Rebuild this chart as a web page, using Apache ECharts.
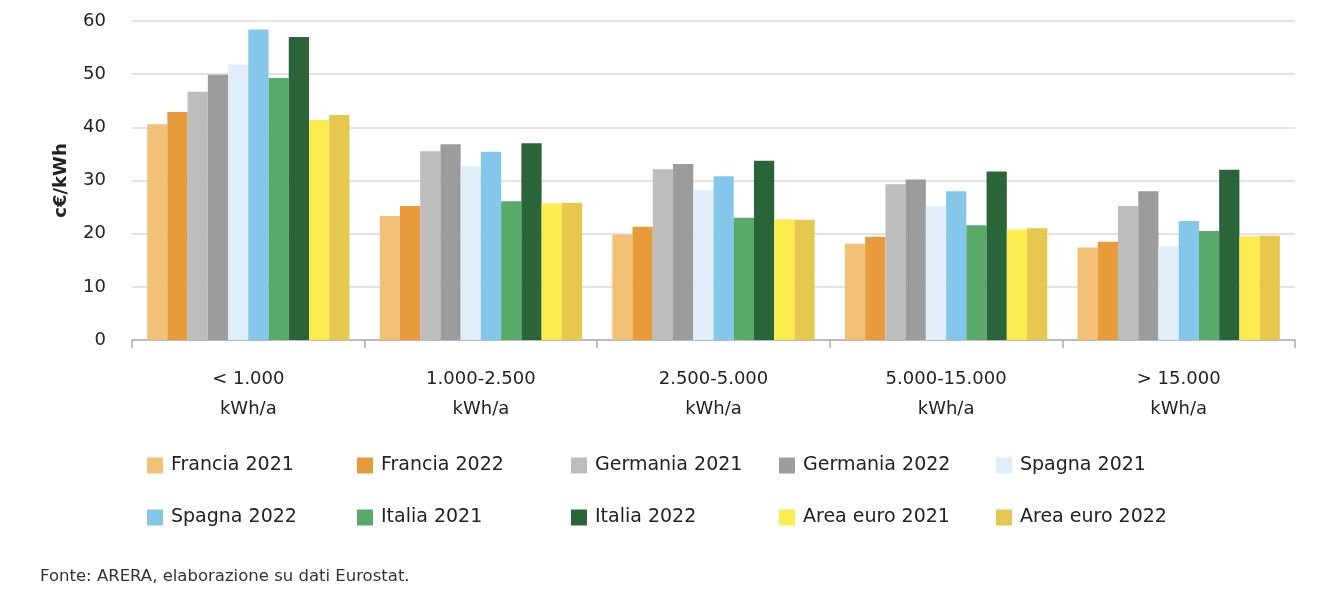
<!DOCTYPE html>
<html><head><meta charset="utf-8">
<script src="https://cdn.jsdelivr.net/npm/echarts@6/dist/echarts.min.js"></script>
<style>html,body{margin:0;padding:0;background:#fff}#c{width:1342px;height:604px}</style>
</head><body><div id="c"></div>
<script>
const categories = ['< 1.000\nkWh/a', '1.000-2.500\nkWh/a', '2.500-5.000\nkWh/a', '5.000-15.000\nkWh/a', '> 15.000\nkWh/a'];
const seriesNames = ['Francia 2021','Francia 2022','Germania 2021','Germania 2022','Spagna 2021','Spagna 2022','Italia 2021','Italia 2022','Area euro 2021','Area euro 2022'];
const francia2021 = [40.6, 23.3, 19.8, 18.1, 17.4];
const francia2022 = [42.9, 25.2, 21.3, 19.4, 18.5];
const germania2021 = [46.7, 35.5, 32.1, 29.3, 25.2];
const germania2022 = [49.9, 36.8, 33.1, 30.2, 28.0];
const spagna2021 = [51.8, 32.7, 28.2, 25.1, 17.6];
const spagna2022 = [58.4, 35.4, 30.8, 28.0, 22.4];
const italia2021 = [49.3, 26.1, 23.0, 21.6, 20.5];
const italia2022 = [57.0, 37.0, 33.7, 31.7, 32.0];
const areaEuro2021 = [41.4, 25.7, 22.7, 20.8, 19.5];
const areaEuro2022 = [42.3, 25.8, 22.6, 21.0, 19.6];
const yTicks = [0, 10, 20, 30, 40, 50, 60];

const values = [francia2021, francia2022, germania2021, germania2022, spagna2021, spagna2022, italia2021, italia2022, areaEuro2021, areaEuro2022];
const colors = ['#F2C177','#E79B3B','#BDBDBD','#9C9C9C','#DFEEF8','#85C6EB','#58A96A','#2A6539','#FCEC50','#E6C84F'];
const legendX = [147, 357, 571, 779, 996];
const legendY = [456, 508];
const FONT = 'DejaVu Sans';

const chart = echarts.init(document.getElementById('c'), null, {renderer: 'canvas'});
const legends = seriesNames.map((n, i) => ({
  data: [n],
  left: legendX[i % 5],
  top: legendY[Math.floor(i / 5)],
  padding: 0,
  itemWidth: 16, itemHeight: 16, itemGap: 6,
  icon: 'rect',
  textStyle: {fontFamily: FONT, fontSize: 19, color: '#222', padding: [0, 0, 0, 3]},
  selectedMode: false
}));
chart.setOption({
  animation: false,
  textStyle: {fontFamily: FONT},
  grid: {left: 132, right: 47, top: 21, bottom: 264, containLabel: false},
  legend: legends,
  graphic: [{
    type: 'text', left: 40, top: 568,
    style: {text: 'Fonte: ARERA, elaborazione su dati Eurostat.', font: '16.5px "' + FONT + '"', fill: '#333'}
  }],
  xAxis: {
    type: 'category', data: categories,
    axisLine: {lineStyle: {color: '#AFAFAF', width: 1.5}},
    axisTick: {show: true, length: 8, lineStyle: {color: '#AFAFAF', width: 1.5}},
    axisLabel: {fontSize: 18, color: '#222', lineHeight: 30, margin: 24, fontFamily: FONT}
  },
  yAxis: {
    type: 'value', min: yTicks[0], max: yTicks[yTicks.length - 1], interval: 10,
    name: 'c€/kWh', nameLocation: 'middle', nameGap: 62, nameRotate: 90,
    nameTextStyle: {fontSize: 18, fontWeight: 'bold', color: '#222', fontFamily: FONT},
    axisLine: {show: false}, axisTick: {show: false},
    axisLabel: {fontSize: 18, color: '#222', margin: 26, fontFamily: FONT},
    splitLine: {lineStyle: {color: '#E3E3E3', width: 2}}
  },
  series: seriesNames.map((n, i) => ({
    name: n, type: 'bar', data: values[i],
    barGap: '0%', barCategoryGap: '13%',
    itemStyle: {color: colors[i]}
  }))
});
</script></body></html>
